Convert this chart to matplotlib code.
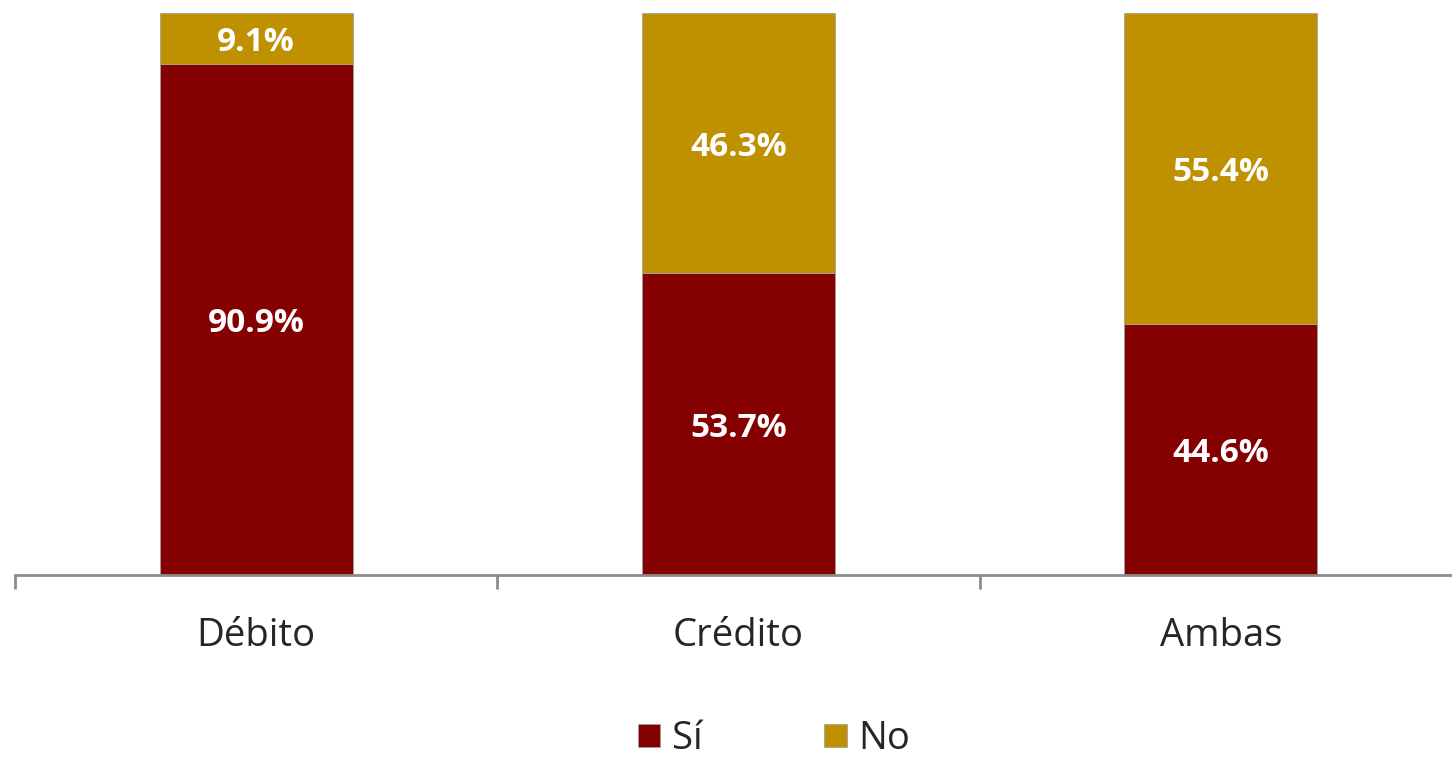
import matplotlib.pyplot as plt
import numpy as np

# Datos
categorias = ['Débito', 'Crédito', 'Ambas']
si = [90.9, 53.7, 44.6]
no = [9.1, 46.3, 55.4]

rojo = '#850000'
oro = '#BF9000'

plt.rcParams['font.family'] = ['Open Sans', 'DejaVu Sans']

fig = plt.figure(figsize=(14.52, 7.6), dpi=100)
fig.patch.set_facecolor('white')
ax = fig.add_axes([15 / 1452, 185 / 760, 1447 / 1452, 562 / 760])
ax.set_facecolor('none')

x = np.arange(len(categorias))
ancho = 0.40
b1 = ax.bar(x, si, width=ancho, color=rojo, label='Sí', edgecolor='#a0a0a0', linewidth=0.6)
b2 = ax.bar(x, no, width=ancho, bottom=si, color=oro, label='No', edgecolor='#a0a0a0', linewidth=0.6)

# Etiquetas de valores
for i in range(len(categorias)):
    ax.text(x[i], si[i] / 2, f'{si[i]:.1f}%', ha='center', va='center_baseline',
            color='white', fontsize=24, fontweight='bold')
    ax.text(x[i], si[i] + no[i] / 2, f'{no[i]:.1f}%', ha='center', va='center_baseline',
            color='white', fontsize=24, fontweight='bold')

ax.set_xlim(-0.5, 2.5)
ax.set_ylim(0, 100)

# Ejes
for s in ['top', 'right', 'left']:
    ax.spines[s].set_visible(False)
ax.spines['bottom'].set_color('#8c8c8c')
ax.spines['bottom'].set_linewidth(2)
ax.set_yticks([])

ax.set_xticks([-0.5, 0.5, 1.5, 2.5])
ax.set_xticklabels([])
ax.tick_params(axis='x', which='major', length=10, width=2, color='#8c8c8c')
ax.set_xticks(x, minor=True)
ax.set_xticklabels(categorias, minor=True, fontsize=27.5, color='#262626')
ax.tick_params(axis='x', which='minor', length=0, pad=30)

fig.legend(handles=[b1, b2], labels=['Sí', 'No'], loc='center',
           bbox_to_anchor=(774 / 1452, 21 / 760), ncol=2, frameon=False,
           fontsize=27.5, handlelength=0.58, handleheight=0.58, columnspacing=3.2,
           handletextpad=0.3, labelcolor='#262626', borderpad=0)

fig.savefig('out.png', dpi=100, facecolor='white')
